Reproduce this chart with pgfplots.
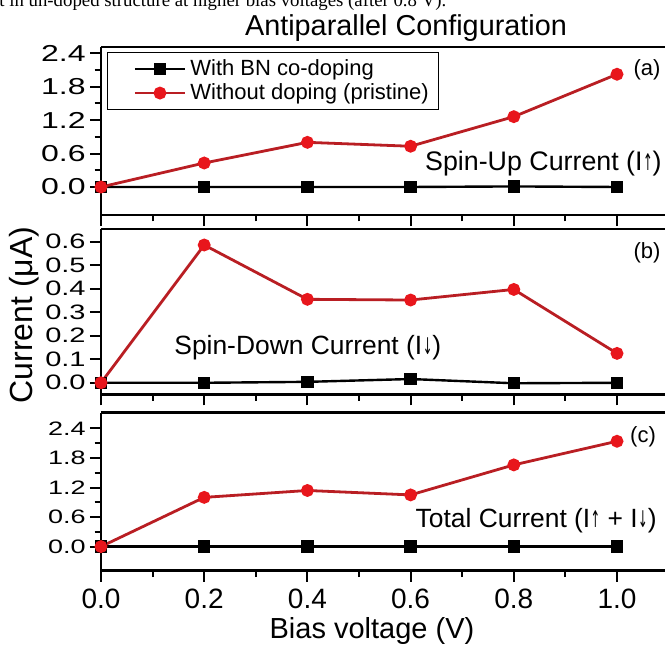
\documentclass[border=0pt]{standalone}
\usepackage{fontspec}
\setmainfont{Liberation Sans}
\newfontfamily\seriffont{Liberation Serif}
\newfontfamily\symf{DejaVu Sans}
\usepackage{graphicx}
\usepackage{pgfplots}
\pgfplotsset{compat=1.18}

\definecolor{redline}{RGB}{185,30,35}
\definecolor{redmark}{RGB}{232,22,28}

\newcommand{\upa}{\kern0.2pt{\symf\fontsize{11.5}{11.5}\selectfont\scalebox{0.5}[1]{↑}}}
\newcommand{\dna}{\kern0.2pt{\symf\fontsize{11.5}{11.5}\selectfont\scalebox{0.5}[1]{↓}}}

\pgfplotsset{
  panel/.style={
    scale only axis, width=282pt,
    xmin=0, xmax=1.093,
    axis x line*=box, axis y line*=left,
    xtick={0,0.2,0.4,0.6,0.8,1.0},
    minor x tick num=1,
    xtick pos=bottom, ytick pos=left,
    tick align=outside,
    major tick length=5.5pt, minor tick length=3.2pt,
    axis line style={line width=1.3pt},
    every tick/.style={black, line width=1pt},
    clip=false,
    /pgf/number format/.cd, fixed, fixed zerofill, precision=1, assume math mode=true,
    /pgfplots/.cd,
    yticklabel={\scalebox{1}[0.72]{\pgfmathprintnumber{\tick}}},
    yticklabel style={inner xsep=2pt},
    xticklabel style={font=\fontsize{14}{14}\selectfont},
  },
  blk/.style={black, line width=1.2pt, mark=square*, mark size=2.5pt, mark options={solid, fill=black}},
  rd/.style={redline, line width=1.4pt, mark=*, mark size=2.5pt, mark options={solid, draw=redmark, fill=redmark}},
}

\begin{document}
\begin{tikzpicture}
% top caption fragment (cropped)
\node[anchor=base west, font=\seriffont\fontsize{9.4}{9.4}\selectfont, inner sep=0] at (-0.5pt,-3.25pt)
  {t in un-doped structure at higher bias voltages (after 0.8 V).};
\node[anchor=base, font=\fontsize{14.4}{14.4}\selectfont, inner sep=0] at (203pt,-17.5pt)
  {Antiparallel Configuration};

% (a) spin-up
\begin{axis}[panel,
  at={(50.5pt,-107.5pt)}, anchor=south west, height=84pt,
  ymin=-0.502, ymax=2.508, ytick={0,0.6,1.2,1.8,2.4}, minor y tick num=1,
  yticklabel style={font=\fontsize{16}{16}\selectfont},
  xticklabels={},
  legend style={at={(0.0106,0.97)}, anchor=north west, draw=black, line width=0.6pt,
    font=\fontsize{11}{11}\selectfont, inner xsep=3pt, inner ysep=1.5pt,
    row sep=-1.5pt, cells={anchor=west}},
  legend image code/.code={\path (0pt,0pt);
    \draw[mark repeat=2,mark phase=2,#1] plot coordinates {(10pt,0pt) (22.5pt,0pt) (35pt,0pt)};},
]
\addplot[blk] coordinates {(0,0) (0.2,0) (0.4,0) (0.6,0) (0.8,0.01) (1.0,0.0)};
\addlegendentry{With BN co-doping}
\addplot[rd] coordinates {(0,0) (0.2,0.43) (0.4,0.80) (0.6,0.73) (0.8,1.26) (1.0,2.02)};
\addlegendentry{Without doping (pristine)}
\end{axis}

% (b) spin-down
\begin{axis}[panel,
  at={(50.5pt,-197.15pt)}, anchor=south west, height=82.65pt,
  ymin=-0.049, ymax=0.654, ytick={0,0.1,0.2,0.3,0.4,0.5,0.6},
  yticklabel style={font=\fontsize{14.5}{14.5}\selectfont},
  xticklabels={},
]
\addplot[blk] coordinates {(0,0) (0.2,0) (0.4,0.004) (0.6,0.016) (0.8,-0.002) (1.0,0)};
\addplot[rd] coordinates {(0,0) (0.2,0.586) (0.4,0.355) (0.6,0.352) (0.8,0.397) (1.0,0.125)};
\end{axis}

% (c) total
\begin{axis}[panel,
  at={(50.5pt,-285.35pt)}, anchor=south west, height=79pt,
  ymin=-0.49, ymax=2.72, ytick={0,0.6,1.2,1.8,2.4}, minor y tick num=1,
  yticklabel style={font=\fontsize{13.5}{13.5}\selectfont},
]
\addplot[blk] coordinates {(0,0) (0.2,0) (0.4,0) (0.6,0) (0.8,0) (1.0,0)};
\addplot[rd] coordinates {(0,0) (0.2,1.00) (0.4,1.14) (0.6,1.05) (0.8,1.66) (1.0,2.14)};
\end{axis}

% annotations
\node[font=\fontsize{11}{11}\selectfont] at (323.5pt,-35pt) {(a)};
\node[font=\fontsize{11}{11}\selectfont] at (323.5pt,-126.5pt) {(b)};
\node[font=\fontsize{11}{11}\selectfont] at (321.5pt,-218.5pt) {(c)};
\node[anchor=base east, inner sep=0, font=\fontsize{13.4}{13.4}\selectfont] at (331pt,-85pt)
  {Spin-Up Current (I\upa)};
\node[anchor=base west, inner sep=0, font=\fontsize{13.2}{13.2}\selectfont] at (87pt,-177pt)
  {Spin-Down Current (I\dna)};
\node[anchor=base east, inner sep=0, font=\fontsize{13.2}{13.2}\selectfont] at (328.5pt,-263.5pt)
  {Total Current (I\upa{} + I\dna)};

% axis labels
\node[rotate=90, inner sep=0, font=\fontsize{16}{16}\selectfont] at (12pt,-157.5pt) {Current (μA)};
\node[anchor=base, inner sep=0, font=\fontsize{14.5}{14.5}\selectfont] at (186pt,-319pt) {Bias voltage (V)};

\pgfresetboundingbox
\useasboundingbox (0pt,0pt) rectangle (332.5pt,-322.5pt);
\end{tikzpicture}
\end{document}
